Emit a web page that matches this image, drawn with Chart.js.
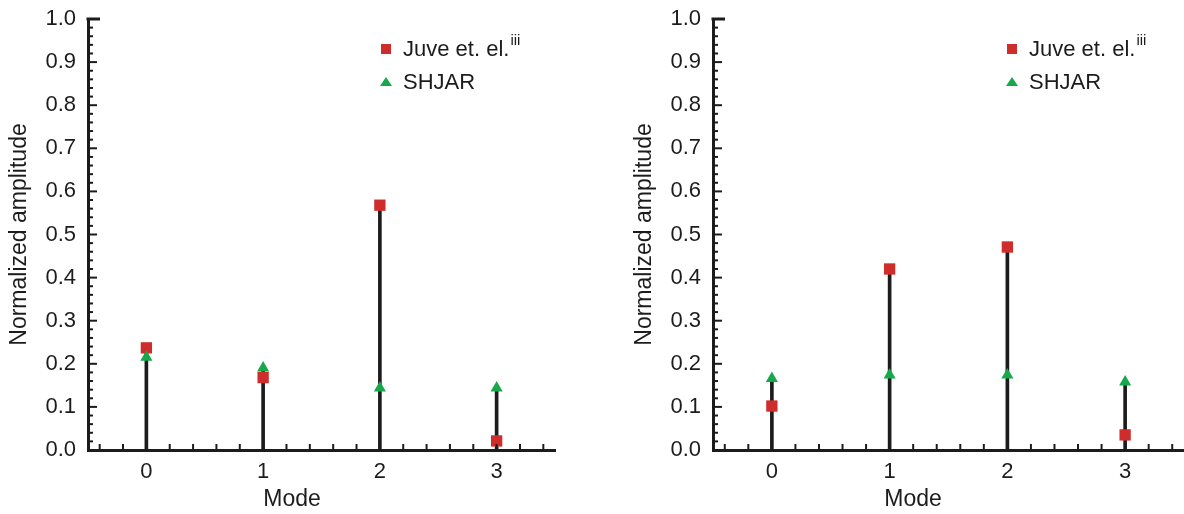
<!DOCTYPE html>
<html><head><meta charset="utf-8">
<script src="https://cdn.jsdelivr.net/npm/chart.js@4.4.1/dist/chart.umd.min.js"></script>
<style>html,body{margin:0;padding:0;background:#fff;overflow:hidden}canvas{position:absolute;top:0}</style>
</head><body>
<canvas id="c1" width="592" height="514" style="left:0"></canvas>
<canvas id="c2" width="592" height="514" style="left:592px"></canvas>
<script>
// ---- data ----
const modes = [0, 1, 2, 3];
const modeLabels = ['0', '1', '2', '3'];
const yTickValues = [0, 0.1, 0.2, 0.3, 0.4, 0.5, 0.6, 0.7, 0.8, 0.9, 1.0];
const yTickLabels = ['0.0', '0.1', '0.2', '0.3', '0.4', '0.5', '0.6', '0.7', '0.8', '0.9', '1.0'];
const juveLeft = [0.237, 0.168, 0.568, 0.021];
const shjarLeft = [0.215, 0.190, 0.144, 0.144];
const juveRight = [0.102, 0.420, 0.471, 0.035];
const shjarRight = [0.166, 0.174, 0.174, 0.158];
const seriesNames = ['Juve et. el.', 'SHJAR'];
const legendSup = 'iii';
const xTitle = 'Mode';
const yTitle = 'Normalized amplitude';

const FONT = '"Liberation Sans", Arial, Helvetica, sans-serif';
const RED = '#cf2c2c';
const GREEN = '#17a84b';
const INK = '#1c1c1c';
Chart.defaults.font.family = FONT;
Chart.defaults.color = INK;

const decor = {
  id: 'decor',
  afterDraw(chart, args, o) {
    const ctx = chart.ctx, xs = chart.scales.x, ys = chart.scales.y, a = chart.chartArea;
    ctx.save();
    ctx.strokeStyle = INK;
    ctx.lineWidth = 2;
    for (let k = 0; k <= 50; k++) {
      const py = ys.getPixelForValue(k / 50);
      const len = k % 5 === 0 ? 9 : 5;
      ctx.beginPath(); ctx.moveTo(a.left, py); ctx.lineTo(a.left + len, py); ctx.stroke();
    }
    ctx.lineWidth = 3;
    const pTop = ys.getPixelForValue(1);
    ctx.beginPath(); ctx.moveTo(a.left - 1.5, pTop); ctx.lineTo(a.left + 12, pTop); ctx.stroke();
    ctx.lineWidth = 2;
    for (let k = -2; k <= 17; k++) {
      const v = k * 0.2;
      if (v < xs.min || v > xs.max) continue;
      const px = xs.getPixelForValue(v);
      ctx.beginPath(); ctx.moveTo(px, a.bottom); ctx.lineTo(px, a.bottom - 6); ctx.stroke();
    }
    // x title
    ctx.fillStyle = INK;
    ctx.font = '23px ' + FONT;
    ctx.textAlign = 'center';
    ctx.textBaseline = 'middle';
    ctx.fillText(xTitle, a.left + o.titleDx, 500);
    // legend
    const lx = a.left + o.legendDx;
    ctx.fillStyle = RED;
    ctx.fillRect(lx - 5, 49 - 5, 10, 10);
    ctx.fillStyle = GREEN;
    ctx.beginPath(); ctx.moveTo(lx, 77); ctx.lineTo(lx + 6, 86); ctx.lineTo(lx - 6, 86); ctx.closePath(); ctx.fill();
    ctx.fillStyle = INK;
    ctx.textAlign = 'left';
    ctx.font = '22px ' + FONT;
    ctx.fillText(seriesNames[0], lx + 17, 50);
    const w = ctx.measureText(seriesNames[0]).width;
    ctx.font = '15px ' + FONT;
    ctx.fillText(legendSup, lx + 17 + w + 1, 41);
    ctx.font = '22px ' + FONT;
    ctx.fillText(seriesNames[1], lx + 17, 83);
    ctx.restore();
  }
};

function makeChart(id, juve, shjar, cfg) {
  const stems = modes.map((m, i) => ({ x: m, y: Math.max(juve[i], shjar[i]) }));
  return new Chart(document.getElementById(id), {
    type: 'scatter',
    data: {
      datasets: [
        { type: 'bar', data: stems, backgroundColor: INK, barThickness: 3, order: 3 },
        { data: modes.map((m, i) => ({ x: m, y: juve[i] })), pointStyle: 'rect', pointRadius: 8,
          backgroundColor: RED, borderColor: RED, borderWidth: 0, order: 2 },
        { data: modes.map((m, i) => ({ x: m, y: shjar[i] })), pointStyle: 'triangle', pointRadius: 7,
          backgroundColor: GREEN, borderColor: GREEN, borderWidth: 0, order: 1 }
      ]
    },
    options: {
      responsive: false, animation: false,
      layout: { autoPadding: false, padding: { top: cfg.padTop, right: cfg.padRight, left: 0, bottom: 0 } },
      plugins: { legend: { display: false }, tooltip: { enabled: false },
        decor: { legendDx: cfg.legendDx, titleDx: cfg.titleDx } },
      scales: {
        x: {
          type: 'linear', min: -0.5, max: 3.5, offset: false,
          afterBuildTicks: s => { s.ticks = modes.map(v => ({ value: v })); },
          afterFit: s => { s.height = 64; s.paddingLeft = 0; s.paddingRight = 0; },
          grid: { display: true, offset: false, drawOnChartArea: false, drawTicks: false },
          border: { display: true, color: INK, width: 3 },
          ticks: { padding: 9, font: { size: 22 }, color: INK, maxRotation: 0,
            callback: (v, i) => modeLabels[i] }
        },
        y: {
          type: 'linear', min: 0, max: 1,
          afterBuildTicks: s => { s.ticks = yTickValues.map(v => ({ value: v })); },
          afterFit: s => { s.width = cfg.yWidth; s.paddingTop = 0; s.paddingBottom = 0; },
          grid: { display: true, drawOnChartArea: false, drawTicks: false },
          border: { display: true, color: INK, width: 3 },
          ticks: { padding: 12, font: { size: 22 }, color: INK, callback: (v, i) => yTickLabels[i] },
          title: { display: true, text: yTitle, font: { size: 23 }, color: INK, padding: { top: cfg.titlePad } }
        }
      }
    },
    plugins: [decor]
  });
}

makeChart('c1', juveLeft, shjarLeft, { padTop: 19, padRight: 37, yWidth: 88, titlePad: 6, legendDx: 298, titleDx: 204 });
makeChart('c2', juveRight, shjarRight, { padTop: 19, padRight: 0, yWidth: 121, titlePad: 39, legendDx: 299, titleDx: 200 });
</script>
</body></html>
